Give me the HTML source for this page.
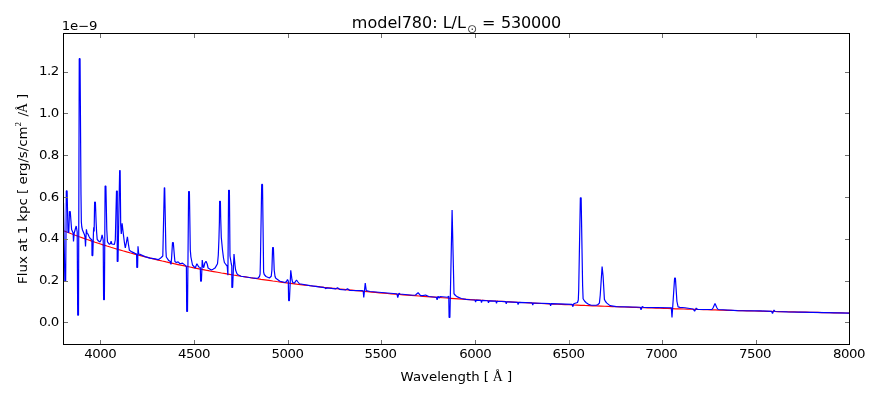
<!DOCTYPE html>
<html><head><meta charset="utf-8"><title>model780</title>
<style>
html,body{margin:0;padding:0;background:#fff;}
body{width:880px;height:400px;overflow:hidden;}
svg{display:block;}
svg text{font-family:"DejaVu Sans","Liberation Sans",sans-serif;font-size:13.33px;fill:#000;}
svg text.tt{font-size:16px;}
svg text.ser{font-family:"Liberation Serif","DejaVu Serif",serif;}
</style></head><body>
<svg width="880" height="400" viewBox="0 0 880 400">
<rect width="880" height="400" fill="#fff"/>
<defs><clipPath id="c"><rect x="63.5" y="33.5" width="786.0" height="311.0"/></clipPath></defs>
<g clip-path="url(#c)" fill="none" stroke-width="1.2" stroke-linejoin="bevel">
<polyline stroke="#f00" points="63.50,230.73 67.45,232.28 71.40,233.80 75.35,235.29 79.30,236.74 83.25,238.16 87.20,239.55 91.15,240.90 95.10,242.23 99.05,243.53 103.00,244.81 106.95,246.05 110.90,247.27 114.85,248.46 118.80,249.63 122.75,250.77 126.70,251.89 130.65,252.99 134.60,254.06 138.55,255.12 142.49,256.15 146.44,257.16 150.39,258.14 154.34,259.11 158.29,260.06 162.24,261.00 166.19,261.91 170.14,262.80 174.09,263.68 178.04,264.54 181.99,265.38 185.94,266.21 189.89,267.02 193.84,267.82 197.79,268.60 201.74,269.36 205.69,270.11 209.64,270.85 213.59,271.57 217.54,272.28 221.49,272.98 225.44,273.66 229.39,274.33 233.34,274.99 237.29,275.64 241.24,276.28 245.19,276.90 249.14,277.51 253.09,278.11 257.04,278.70 260.99,279.29 264.94,279.86 268.89,280.42 272.84,280.97 276.79,281.51 280.74,282.04 284.69,282.56 288.64,283.07 292.59,283.58 296.54,284.08 300.48,284.56 304.43,285.04 308.38,285.51 312.33,285.98 316.28,286.43 320.23,286.88 324.18,287.32 328.13,287.75 332.08,288.18 336.03,288.60 339.98,289.01 343.93,289.42 347.88,289.82 351.83,290.21 355.78,290.60 359.73,290.98 363.68,291.35 367.63,291.72 371.58,292.08 375.53,292.44 379.48,292.79 383.43,293.14 387.38,293.48 391.33,293.82 395.28,294.15 399.23,294.47 403.18,294.79 407.13,295.11 411.08,295.42 415.03,295.72 418.98,296.02 422.93,296.32 426.88,296.61 430.83,296.90 434.78,297.18 438.73,297.46 442.68,297.74 446.63,298.01 450.58,298.28 454.53,298.54 458.47,298.80 462.42,299.06 466.37,299.31 470.32,299.56 474.27,299.81 478.22,300.05 482.17,300.29 486.12,300.52 490.07,300.75 494.02,300.98 497.97,301.21 501.92,301.43 505.87,301.65 509.82,301.86 513.77,302.08 517.72,302.29 521.67,302.49 525.62,302.70 529.57,302.90 533.52,303.10 537.47,303.29 541.42,303.49 545.37,303.68 549.32,303.87 553.27,304.05 557.22,304.24 561.17,304.42 565.12,304.60 569.07,304.77 573.02,304.95 576.97,305.12 580.92,305.29 584.87,305.46 588.82,305.62 592.77,305.79 596.72,305.95 600.67,306.11 604.62,306.26 608.57,306.42 612.52,306.57 616.46,306.72 620.41,306.87 624.36,307.02 628.31,307.16 632.26,307.31 636.21,307.45 640.16,307.59 644.11,307.73 648.06,307.87 652.01,308.00 655.96,308.13 659.91,308.27 663.86,308.40 667.81,308.52 671.76,308.65 675.71,308.78 679.66,308.90 683.61,309.02 687.56,309.15 691.51,309.27 695.46,309.38 699.41,309.50 703.36,309.62 707.31,309.73 711.26,309.84 715.21,309.96 719.16,310.07 723.11,310.17 727.06,310.28 731.01,310.39 734.96,310.49 738.91,310.60 742.86,310.70 746.81,310.80 750.76,310.90 754.71,311.00 758.66,311.10 762.61,311.20 766.56,311.29 770.51,311.39 774.45,311.48 778.40,311.58 782.35,311.67 786.30,311.76 790.25,311.85 794.20,311.94 798.15,312.03 802.10,312.11 806.05,312.20 810.00,312.29 813.95,312.37 817.90,312.45 821.85,312.54 825.80,312.62 829.75,312.70 833.70,312.78 837.65,312.86 841.60,312.94 845.55,313.01 849.50,313.09"/>
<polyline stroke="#00f" points="63.50,203.00 64.85,281.25 65.65,281.25 66.30,190.90 67.10,190.90 68.00,232.50 68.80,232.50 69.45,211.50 70.25,211.50 71.60,229.50 73.10,233.00 73.50,241.50 74.20,233.00 76.20,226.00 77.20,232.00 77.70,315.25 78.50,315.25 79.25,58.70 80.05,58.70 81.00,195.00 81.35,222.00 81.80,227.00 82.50,230.00 84.40,234.40 85.00,237.00 85.50,246.40 86.40,229.30 87.10,233.50 88.00,234.00 89.00,236.50 90.00,238.30 91.90,240.00 92.00,255.60 92.80,255.60 93.50,231.00 93.75,227.30 94.15,231.50 94.60,202.20 95.40,202.20 96.10,222.00 96.60,232.00 97.20,239.40 98.50,241.00 100.00,241.90 101.00,240.00 102.10,234.80 103.20,240.00 103.60,299.75 104.40,299.75 105.10,186.10 105.90,186.10 106.80,230.00 107.50,241.90 109.40,244.40 110.50,243.50 111.10,241.10 111.80,244.00 114.40,244.40 115.30,240.00 116.50,191.10 117.30,191.10 117.20,261.40 118.00,261.40 119.65,170.50 120.15,170.50 120.70,225.00 121.30,234.00 122.10,223.30 123.10,232.00 124.40,242.50 125.30,247.90 126.30,243.00 127.40,236.90 128.40,244.00 129.40,250.30 131.90,251.90 135.00,253.40 136.60,254.00 136.80,267.50 137.60,267.50 138.00,246.25 138.70,254.00 140.00,254.40 145.00,256.60 150.00,258.10 155.00,258.90 158.10,259.70 160.00,258.50 161.25,257.50 162.80,256.00 162.90,252.00 164.30,187.75 164.70,187.75 165.90,250.00 166.30,257.00 168.75,260.60 170.30,261.50 171.00,264.40 171.60,258.00 172.50,242.50 173.30,242.50 174.40,256.00 174.90,261.50 176.25,262.50 178.10,261.90 180.00,263.75 182.50,263.10 185.60,265.60 186.40,267.00 186.70,311.50 187.50,311.50 188.60,191.50 189.40,191.50 190.30,250.00 190.90,257.00 192.50,265.00 195.20,268.00 196.90,263.75 198.75,267.00 200.30,267.50 200.60,281.25 201.40,281.25 202.25,260.00 203.20,267.00 203.75,267.50 204.80,263.00 206.00,261.25 207.20,264.00 208.10,268.00 211.25,270.00 213.00,269.30 215.00,268.10 217.50,263.75 218.30,255.00 218.90,240.00 219.40,222.00 219.60,201.25 220.40,201.25 220.70,218.00 221.30,237.50 222.50,250.00 223.50,258.00 224.40,262.50 226.25,265.00 227.20,266.00 227.90,275.25 228.60,190.25 229.40,190.25 230.00,256.00 231.25,263.75 231.80,266.00 231.85,287.50 232.65,287.50 234.00,254.00 235.00,265.00 235.60,270.00 236.90,273.60 238.00,274.75 241.00,276.25 246.00,277.00 251.00,277.75 256.00,278.40 258.00,278.00 259.50,276.50 260.10,274.00 260.40,262.00 261.70,184.40 262.50,184.40 263.50,262.00 263.60,272.00 264.25,274.50 266.00,276.50 269.40,278.00 271.25,276.25 271.90,270.00 272.60,247.50 273.40,247.50 274.20,270.00 275.00,276.25 275.60,278.00 277.50,279.40 280.00,281.25 285.00,282.50 286.50,281.50 287.50,279.40 288.30,281.00 288.60,300.60 289.40,300.60 290.75,270.25 292.00,280.00 292.75,282.50 294.40,283.10 296.50,280.00 298.00,282.00 299.40,283.75 310.00,285.60 324.50,287.60 325.60,288.60 327.00,287.90 335.50,288.90 337.50,287.75 339.50,289.30 345.50,290.00 347.50,288.75 349.50,290.30 362.50,290.70 363.20,291.00 363.75,297.50 365.25,283.10 366.25,290.60 370.00,291.50 396.25,293.75 397.00,294.00 397.75,297.50 399.00,293.10 400.00,294.00 412.50,295.25 415.50,295.00 418.10,292.75 420.60,295.60 423.00,295.60 425.60,295.00 428.75,296.50 435.60,297.25 436.40,297.30 437.10,299.75 438.10,296.25 439.00,298.10 440.00,296.50 447.50,297.25 448.75,296.25 449.10,317.50 449.90,317.50 452.10,210.00 454.00,293.75 455.50,295.50 457.50,296.90 461.25,298.50 466.00,299.30 470.00,299.75 475.00,300.02 475.60,302.16 476.20,300.09 480.90,300.35 481.50,302.48 482.10,300.42 487.90,300.73 488.50,302.87 489.10,300.80 495.90,301.17 496.50,303.31 497.10,301.24 505.65,301.71 506.25,303.84 506.85,301.78 517.50,302.36 518.10,304.50 518.70,302.43 532.15,302.96 532.75,305.09 533.35,303.01 550.00,303.64 550.60,305.77 551.20,303.69 572.10,304.40 572.90,306.70 573.60,304.00 574.40,303.50 577.50,302.50 578.30,300.00 578.70,290.00 580.35,197.80 581.15,197.80 582.60,285.00 583.10,298.75 584.50,301.00 586.25,302.75 588.50,304.30 591.25,305.25 596.25,305.25 598.00,304.50 599.40,303.10 600.25,295.00 602.10,266.50 603.10,276.25 604.40,299.40 605.50,301.50 606.90,303.10 610.00,305.60 616.25,306.60 640.00,307.25 640.40,307.30 641.00,309.75 642.25,306.50 643.50,307.30 670.60,307.75 671.30,307.50 672.00,317.50 673.10,301.00 674.60,278.10 675.40,278.10 676.90,301.25 678.10,306.90 680.00,307.30 685.00,307.75 693.10,309.00 694.60,311.25 696.25,308.10 697.50,309.40 711.90,309.50 713.00,308.00 715.00,303.50 717.00,308.00 718.10,309.50 737.50,310.60 760.00,310.90 771.50,311.30 772.50,313.50 774.00,310.00 775.20,311.50 787.50,311.90 849.50,313.10"/>
</g>
<g stroke="#707070" stroke-width="1" fill="none" shape-rendering="crispEdges"><path d="M100.5,344.5v-4.5M100.5,33.5v4.5"/><path d="M194.5,344.5v-4.5M194.5,33.5v4.5"/><path d="M288.5,344.5v-4.5M288.5,33.5v4.5"/><path d="M381.5,344.5v-4.5M381.5,33.5v4.5"/><path d="M475.5,344.5v-4.5M475.5,33.5v4.5"/><path d="M569.5,344.5v-4.5M569.5,33.5v4.5"/><path d="M662.5,344.5v-4.5M662.5,33.5v4.5"/><path d="M756.5,344.5v-4.5M756.5,33.5v4.5"/><path d="M63.5,322.5h4.5M849.5,322.5h-4.5"/><path d="M63.5,281.5h4.5M849.5,281.5h-4.5"/><path d="M63.5,239.5h4.5M849.5,239.5h-4.5"/><path d="M63.5,197.5h4.5M849.5,197.5h-4.5"/><path d="M63.5,155.5h4.5M849.5,155.5h-4.5"/><path d="M63.5,113.5h4.5M849.5,113.5h-4.5"/><path d="M63.5,72.5h4.5M849.5,72.5h-4.5"/></g>
<rect x="63.5" y="33.5" width="786.0" height="311.0" fill="none" stroke="#000" stroke-width="1" shape-rendering="crispEdges"/>
<g><text transform="translate(84.30,358.00) scale(1,0.92)" style="letter-spacing:-0.48px">4000</text><text transform="translate(178.10,358.00) scale(1,0.92)" style="letter-spacing:-0.48px">4500</text><text transform="translate(271.40,358.00) scale(1,0.92)" style="letter-spacing:-0.48px">5000</text><text transform="translate(364.50,358.00) scale(1,0.92)" style="letter-spacing:-0.48px">5500</text><text transform="translate(459.30,358.00) scale(1,0.92)" style="letter-spacing:-0.48px">6000</text><text transform="translate(552.40,358.00) scale(1,0.92)" style="letter-spacing:-0.48px">6500</text><text transform="translate(645.30,358.00) scale(1,0.92)" style="letter-spacing:-0.48px">7000</text><text transform="translate(739.00,358.00) scale(1,0.92)" style="letter-spacing:-0.48px">7500</text><text transform="translate(833.00,358.00) scale(1,0.92)" style="letter-spacing:-0.48px">8000</text></g>
<g><text transform="translate(38.90,326.20) scale(1,0.92)" style="letter-spacing:-0.48px">0.0</text><text transform="translate(38.90,284.20) scale(1,0.92)" style="letter-spacing:-0.48px">0.2</text><text transform="translate(38.90,242.20) scale(1,0.92)" style="letter-spacing:-0.48px">0.4</text><text transform="translate(38.90,201.20) scale(1,0.92)" style="letter-spacing:-0.48px">0.6</text><text transform="translate(38.90,159.20) scale(1,0.92)" style="letter-spacing:-0.48px">0.8</text><text transform="translate(38.90,117.20) scale(1,0.92)" style="letter-spacing:-0.48px">1.0</text><text transform="translate(38.90,75.20) scale(1,0.92)" style="letter-spacing:-0.48px">1.2</text></g>
<text transform="translate(61.70,29.90) scale(1,0.92)" style="letter-spacing:-0.2px">1e−9</text>
<text transform="translate(351.85,27.80)" class="tt">model780: L/L</text><text transform="translate(467.10,32.60)" style="font-size:12.2px;fill:#444">⊙</text><text transform="translate(481.90,27.80)" class="tt">=</text><text transform="translate(501.10,27.80)" class="tt" style="letter-spacing:-0.18px">530000</text>
<text transform="translate(400.60,380.70) scale(1,0.92)" >Wavelength [</text><text transform="translate(492.80,380.70)" class="ser" style="font-size:13.8px">Å</text><text transform="translate(507.10,380.70) scale(1,0.92)" >]</text>
<text transform="translate(27.20,283.90) rotate(-90) scale(1,0.92)" >Flux at 1 kpc [ erg/s/cm</text><text transform="translate(21.20,126.20) rotate(-90)" class="ser" style="font-size:8.4px">2</text><text transform="translate(27.20,116.60) rotate(-90) scale(1,0.92)" >/</text><text transform="translate(27.20,112.90) rotate(-90)" class="ser" style="font-size:13.8px">Å</text><text transform="translate(27.20,99.00) rotate(-90) scale(1,0.92)" >]</text>
</svg>
</body></html>
